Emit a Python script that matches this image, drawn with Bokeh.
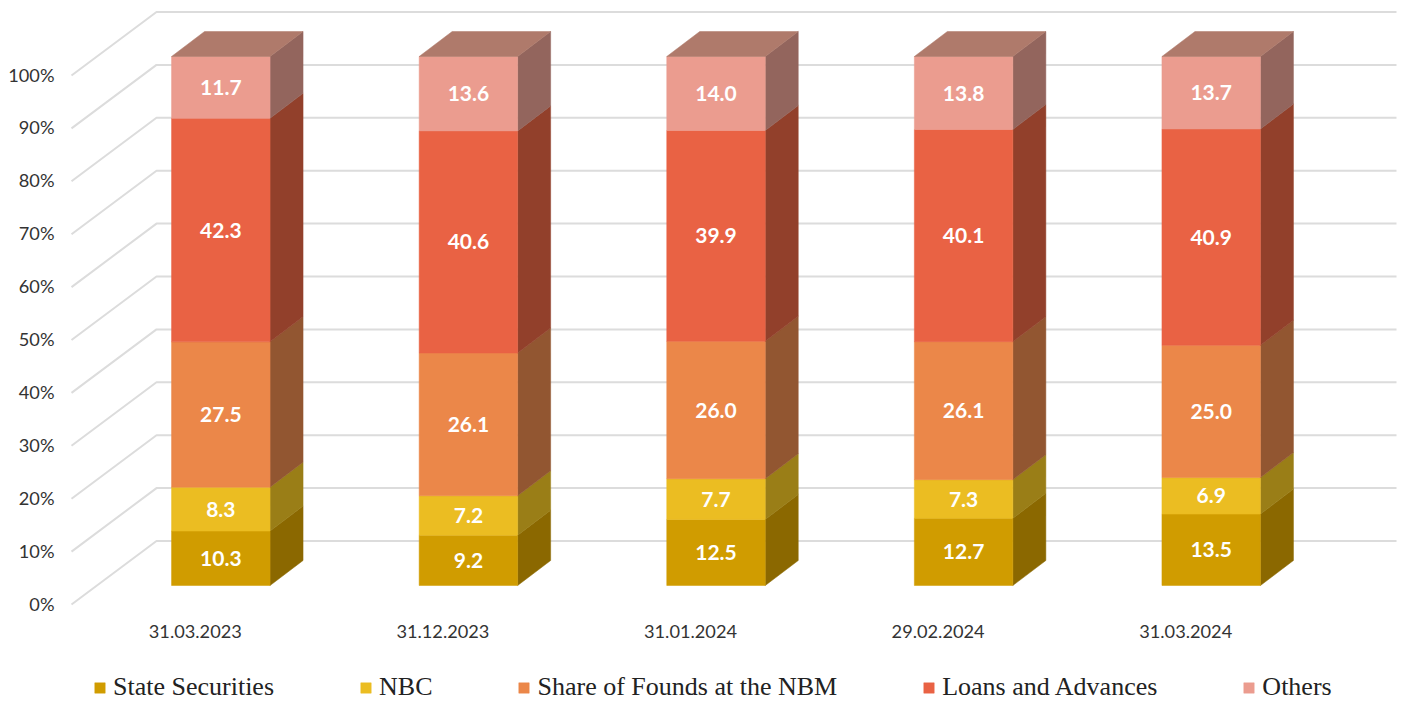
from bokeh.plotting import figure
from bokeh.models import Range1d, LinearAxis, FixedTicker, Legend, LegendItem
from bokeh.core.properties import value
from bokeh.embed import file_html
from bokeh.resources import INLINE

dates = ["31.03.2023", "31.12.2023", "31.01.2024", "29.02.2024", "31.03.2024"]
series_names = ["State Securities", "NBC", "Share of Founds at the NBM", "Loans and Advances", "Others"]
state_securities = [10.3, 9.2, 12.5, 12.7, 13.5]
nbc = [8.3, 7.2, 7.7, 7.3, 6.9]
share_of_founds = [27.5, 26.1, 26.0, 26.1, 25.0]
loans_and_advances = [42.3, 40.6, 39.9, 40.1, 40.9]
others = [11.7, 13.6, 14.0, 13.8, 13.7]
series_values = [state_securities, nbc, share_of_founds, loans_and_advances, others]
front_colors = ["#D09C00", "#EBBD22", "#EB8749", "#E96244", "#EB9C8F"]
side_colors = ["#8B6800", "#9A7E17", "#925631", "#92402B", "#93655D"]
top_color = "#AF7A6B"
grid_color = "#DCDCDC"
pct_ticks = list(range(0, 101, 10))

# layout in picture pixels
FRAME_L, FRAME_R = 62, 1400
FRAME_T, FRAME_B = 8, 702
AXIS_Y = 612
C0, STEP = 220.3, 247.6
Y0, PX = 585.0, 5.29
BAR_W = 98.5 / STEP
DX, DY = 33 / STEP, 25 / PX
WALL_DY = 44.5 / PX
x_start = (FRAME_L - C0) / STEP
x_end = (FRAME_R - C0) / STEP
y_start = (Y0 - FRAME_B) / PX
y_end = (Y0 - FRAME_T) / PX

p = figure(frame_width=FRAME_R - FRAME_L, frame_height=FRAME_B - FRAME_T,
           output_backend="svg", toolbar_location=None,
           x_range=Range1d(x_start, x_end), y_range=Range1d(y_start, y_end),
           x_axis_type=None, y_axis_type=None,
           min_border_left=62, min_border_right=0,
           min_border_top=8, min_border_bottom=0,
           outline_line_color=None, background_fill_color="white")
p.grid.visible = False

# walls: horizontal + diagonal grid lines
wall_left = (156 - C0) / STEP
wall_right = (1396 - C0) / STEP
diag_left = (71 - C0) / STEP
p.multi_line(
    [[diag_left, wall_left, wall_right] for t in pct_ticks],
    [[t - 19.0 / PX, t + WALL_DY, t + WALL_DY] for t in pct_ticks],
    line_color=grid_color, line_width=2)

# bars
items = []
cum = [0.0] * len(dates)
totals = [sum(s[i] for s in series_values) for i in range(len(dates))]
for k, (name, vals) in enumerate(zip(series_names, series_values)):
    fx, fy, sx, sy, lx, ly, lt = [], [], [], [], [], [], []
    for i, v in enumerate(vals):
        a = cum[i]
        b = a + v / totals[i] * 100
        cum[i] = b
        l, r = i - BAR_W / 2, i + BAR_W / 2
        fx.append([l, r, r, l]); fy.append([a, a, b, b])
        sx.append([r, r + DX, r + DX, r]); sy.append([a, a + DY, b + DY, b])
        lx.append(i); ly.append((a + b) / 2); lt.append(f"{v:.1f}")
    p.patches(sx, sy, fill_color=side_colors[k], line_color=side_colors[k], line_width=0.5)
    r = p.patches(fx, fy, fill_color=front_colors[k], line_color=front_colors[k], line_width=0.5)
    items.append(LegendItem(label=name, renderers=[r]))
    if k == len(series_names) - 1:
        tx, ty = [], []
        for i in range(len(dates)):
            l, rr = i - BAR_W / 2, i + BAR_W / 2
            tx.append([l, rr, rr + DX, l + DX]); ty.append([100, 100, 100 + DY, 100 + DY])
        p.patches(tx, ty, fill_color=top_color, line_color=top_color, line_width=0.5)
    p.text(lx, ly, text=lt, text_color="white", text_align="center", text_baseline="middle",
           text_font=value("Lato"), text_font_style="bold", text_font_size="21px")

# y axis (sits on the front edge of the floor)
axis_px_0 = 603.0
p.extra_y_ranges["wall"] = Range1d((axis_px_0 - FRAME_B) / PX, (axis_px_0 - FRAME_T) / PX)
ya = LinearAxis(y_range_name="wall", ticker=FixedTicker(ticks=pct_ticks),
                major_label_overrides={t: f"{t}%" for t in pct_ticks})
# x axis (labels sit 25px left of the bars), fixed just below the floor inside the frame
shift = 25.5 / STEP
p.extra_x_ranges["cat"] = Range1d(x_start + shift, x_end + shift)
xa = LinearAxis(x_range_name="cat", ticker=FixedTicker(ticks=list(range(len(dates)))),
                major_label_overrides={i: d for i, d in enumerate(dates)},
                fixed_location=(Y0 - AXIS_Y) / PX)
for ax in (ya, xa):
    ax.axis_line_color = None
    ax.major_tick_line_color = None
    ax.minor_tick_line_color = None
    ax.major_tick_in = 0
    ax.major_tick_out = 0
    ax.major_label_text_font = "Lato"
    ax.major_label_text_font_size = "18.2px"
    ax.major_label_text_color = "#333333"
ya.major_label_standoff = 8
xa.major_label_standoff = 12
p.add_layout(ya, "left")
p.add_layout(xa, "below")

legend = Legend(items=items, orientation="horizontal",
                location=(93 - FRAME_L, 0),
                spacing=85, glyph_width=13, glyph_height=13, label_standoff=7,
                padding=0, margin=0, border_line_color=None, background_fill_alpha=0,
                label_text_font="Liberation Serif", label_text_font_size="26px",
                label_text_color="#222222")
p.add_layout(legend, "center")

open("out.html", "w").write(file_html(p, INLINE))
